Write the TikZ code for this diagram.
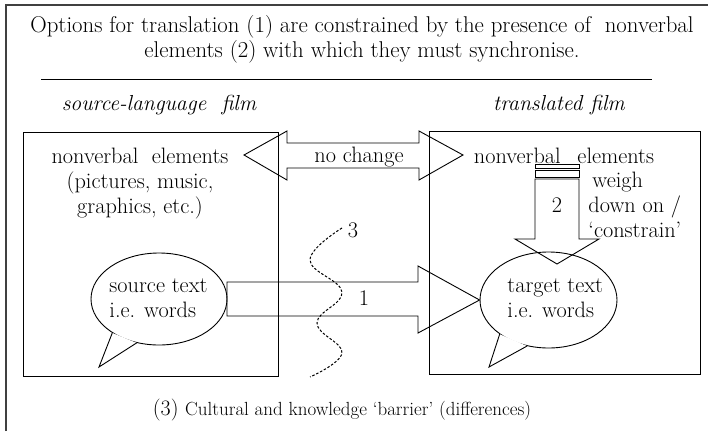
\documentclass[tikz,border=0pt]{standalone}
\usepackage{fontspec}
\usetikzlibrary{shapes.geometric}

\begin{document}
\begin{tikzpicture}[x=1pt,y=-1pt,
  line width=0.9pt, line join=miter,
  txt/.style={inner sep=0pt, font=\fontsize{22.3}{25}\selectfont},
  hdr/.style={inner sep=0pt, font=\fontsize{22.8}{25}\selectfont},
  film/.style={inner sep=0pt, font=\fontsize{21.7}{25}\selectfont\itshape},
  filmbox/.style={draw, inner sep=0pt},
  bubble/.style={draw, ellipse, inner sep=0pt},
  blockarrow/.style={draw},
  barrier/.style={dash pattern=on 2.5pt off 1.8pt, line width=1pt},
]
\useasboundingbox (0,0) rectangle (708,431);

% outer frame: only the left and top edges fall inside the page
\draw[line width=1.3pt, black!75] (6,431) -- (6,5) -- (708,5);

% heading and rule
\node[hdr, align=center, anchor=base] (title) at (362,57)
  {Options for translation (1) are constrained by the presence of\ \ nonverbal\\
   elements (2) with which they must synchronise.};
\coordinate (ruleL) at (41,79);
\coordinate (ruleR) at (652,79);
\draw (ruleL) -- (ruleR);

\node[film, anchor=base] (srcfilm) at (159,110) {source-language\ \ film};
\node[film, anchor=base] (tgtfilm) at (559,110) {translated film};

% the two films
\node[filmbox, minimum width=255pt, minimum height=244pt] (srcbox) at (150.5,254) {};
\node[filmbox, minimum width=271pt, minimum height=243pt] (tgtbox) at (564.5,252.5) {};

% nonverbal elements
\node[txt, align=center, anchor=base] (srcnv) at (140,213)
  {nonverbal\hspace{0.6em}elements\\(pictures, music,\\graphics, etc.)};
\node[txt, anchor=base] (tgtnv) at (564,163) {nonverbal\hspace{0.75em}elements};
\node[txt, align=left, anchor=base west] (weigh) at (588,237)
  {\hspace{4pt}weigh\\down on /\\`constrain'};

% speech bubbles
\node[bubble, minimum width=136pt, minimum height=92pt] (srcbub) at (159,299) {};
\coordinate (srctip) at (99,367);
\fill[white] (srcbub.216) -- (srctip) -- (srcbub.243) -- cycle;
\draw (srcbub.216) -- (srctip) -- (srcbub.243);
\node[txt, align=left, anchor=base west] (srctext) at (109,317) {source text\\i.e. words};

\node[bubble, minimum width=137pt, minimum height=96pt] (tgtbub) at (548.5,300) {};
\coordinate (tgttip) at (489,367);
\fill[white] (tgtbub.215) -- (tgttip) -- (tgtbub.245) -- cycle;
\draw (tgtbub.215) -- (tgttip) -- (tgtbub.245);
\node[txt, align=left, anchor=base west] (tgttext) at (507,317) {target text\\i.e. words};

% "no change" double arrow between the nonverbal elements
\coordinate (ncL) at (244,155);
\coordinate (ncR) at (463,155);
\draw[blockarrow] (ncL) -- (287,131) -- (287,143) -- (419,143) -- (419,131) -- (ncR)
  -- (419,180) -- (419,168) -- (287,168) -- (287,180) -- cycle;
\node[txt, anchor=base] (nochange) at (359,162) {no change};

% arrow 1: source text to target text
\draw[blockarrow] (227,282) -- (418,282) -- (418,266) -- (tgtbub.west)
  -- (418,333) -- (418,316) -- (227,316) -- cycle;
\node[txt, anchor=base] (one) at (364,305) {1};

% arrow 2: nonverbal elements weigh down on the target text
\draw[blockarrow] (535,164) rectangle (579,168);
\draw[blockarrow] (535,170) rectangle (579,177);
\draw[blockarrow] (535,179) -- (535,239) -- (515,239) -- (557,264) -- (599,239)
  -- (579,239) -- (579,179) -- cycle;
\node[txt, anchor=base] (two) at (557,212) {2};

% 3: the cultural barrier
\draw[barrier] plot[smooth, tension=0.7] coordinates
  {(342,228) (310,260) (342,292) (317,323) (342,353) (310,377)};
\node[txt, anchor=base] (three) at (353,237) {3};

\node[inner sep=0pt, anchor=base] (caption) at (342,415)
  {\fontsize{22}{24}\selectfont(3) \fontsize{19}{24}\selectfont Cultural and knowledge `barrier' (differences)};
\end{tikzpicture}
\end{document}
